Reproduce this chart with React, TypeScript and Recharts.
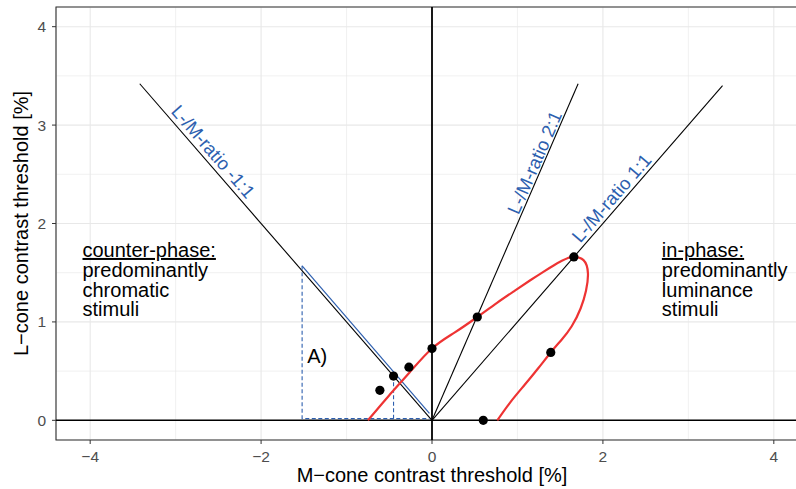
import {
  ComposedChart,
  XAxis,
  YAxis,
  CartesianGrid,
  Line,
  Scatter,
  ReferenceLine,
  ReferenceArea,
  ReferenceDot,
} from "recharts";

// axis ticks / grid
const xMajor = [-4, -2, 0, 2, 4];
const xMinor = [-3, -1, 1, 3];
const yMajor = [0, 1, 2, 3, 4];
const yMinor = [0.5, 1.5, 2.5, 3.5];

// L/M ratio lines
const ratioNeg = [
  { x: -3.42, y: 3.42 },
  { x: 0, y: 0 },
];
const ratio21 = [
  { x: 0, y: 0 },
  { x: 1.71, y: 3.42 },
];
const ratio11 = [
  { x: 0, y: 0 },
  { x: 3.4, y: 3.4 },
];

// blue construction "A)"
const blueVector = [
  { x: -1.52, y: 1.57 },
  { x: -0.03, y: 0.07 },
];
const blueDashBox = [
  { x: -1.52, y: 1.57 },
  { x: -1.52, y: 0.017 },
  { x: -0.03, y: 0.017 },
];
const blueDashTick = [
  { x: -0.45, y: 0.017 },
  { x: -0.45, y: 0.44 },
];

// threshold ellipse
const ellipseX = [
  -0.75, -0.512, -0.263, 0, 0.263, 0.53, 0.761, 0.97, 1.15, 1.303, 1.428,
  1.526, 1.598, 1.656, 1.773, 1.825, 1.802, 1.74, 1.635, 1.512, 1.401, 1.243,
  1.08, 0.916, 0.764,
];
const ellipseY = [
  0, 0.243, 0.486, 0.73, 0.891, 1.05, 1.194, 1.318, 1.423, 1.509, 1.576,
  1.623, 1.652, 1.661, 1.628, 1.492, 1.317, 1.139, 0.956, 0.814, 0.702, 0.529,
  0.356, 0.183, 0,
];
const ellipse = ellipseX.map((x, i) => ({ x, y: ellipseY[i] }));

// measured thresholds
const pointX = [-0.61, -0.45, -0.27, 0, 0.53, 1.66, 1.39, 0.6];
const pointY = [0.305, 0.45, 0.54, 0.73, 1.05, 1.66, 0.69, 0];
const points = pointX.map((x, i) => ({ x, y: pointY[i] }));

const FONT = '"Liberation Sans", Arial, Helvetica, sans-serif';
const BLUE = "#2D5FAF";
const RED = "#EE3333";
const GRID = "#E8E8E8";

const fmt = (v: number) => String(v).replace("-", "\u2212");

function YTitle(props: any) {
  const vb = props.viewBox || { x: 0, y: 7, width: 56, height: 433 };
  const x = vb.x + 28;
  const y = vb.y + vb.height / 2;
  return (
    <text x={x} y={y} transform={`rotate(-90 ${x} ${y})`} textAnchor="middle" fontSize={20} fill="#000">
      L{"\u2212"}cone contrast threshold [%]
    </text>
  );
}

function rotatedLabel(text: string, angle: number) {
  return (p: any) => (
    <text
      x={p.cx}
      y={p.cy}
      transform={`rotate(${angle} ${p.cx} ${p.cy})`}
      textAnchor="middle"
      dominantBaseline="central"
      fontSize={18.5}
      fill={BLUE}
    >
      {text}
    </text>
  );
}

function noteBlock(lines: string[]) {
  return (p: any) => (
    <text x={p.cx} y={p.cy} fontSize={20} fill="#000">
      {lines.map((l, i) => (
        <tspan key={i} x={p.cx} dy={i === 0 ? 0 : 19.8} textDecoration={i === 0 ? "underline" : undefined}>
          {l}
        </tspan>
      ))}
    </text>
  );
}

const angleSteep = -66.5;
const angleDiag = 49;

export default function App() {
  return (
    <div
      style={{
        position: "absolute",
        left: 0,
        top: 0,
        width: 796,
        height: 489,
        overflow: "hidden",
        background: "#fff",
        fontFamily: FONT,
      }}
    >
      <ComposedChart width={818} height={489} margin={{ top: 7, right: 10, bottom: 0, left: 0 }}>
        <CartesianGrid stroke={GRID} strokeWidth={0.6} xAxisId="minor" yAxisId="minor" />
        <CartesianGrid stroke={GRID} strokeWidth={1.1} />
        <XAxis xAxisId="minor" type="number" dataKey="x" domain={[-4.4, 4.4]} ticks={xMinor} allowDataOverflow hide />
        <YAxis yAxisId="minor" type="number" dataKey="y" domain={[-0.2, 4.2]} ticks={yMinor} allowDataOverflow hide />
        <XAxis
          type="number"
          dataKey="x"
          domain={[-4.4, 4.4]}
          ticks={xMajor}
          allowDataOverflow
          axisLine={false}
          tickLine={{ stroke: "#333333" }}
          tickSize={4}
          tickMargin={7}
          tick={{ fill: "#4D4D4D", fontSize: 15.5 }}
          tickFormatter={fmt}
          height={49}
          label={{
            value: "M\u2212cone contrast threshold [%]",
            position: "insideBottom",
            offset: 7,
            fill: "#000",
            fontSize: 20,
          }}
        />
        <YAxis
          type="number"
          dataKey="y"
          domain={[-0.2, 4.2]}
          ticks={yMajor}
          allowDataOverflow
          axisLine={false}
          tickLine={{ stroke: "#333333" }}
          tickSize={4}
          tickMargin={6}
          tick={{ fill: "#4D4D4D", fontSize: 15.5 }}
          tickFormatter={fmt}
          width={56}
          label={<YTitle />}
        />
        <ReferenceArea x1={-4.4} x2={4.4} y1={-0.2} y2={4.2} fill="none" stroke="#333333" strokeWidth={1.1} />
        <ReferenceLine y={0} stroke="#000" strokeWidth={1.5} />
        <ReferenceLine x={0} stroke="#000" strokeWidth={1.8} />

        <Line data={ratioNeg} dataKey="y" stroke="#000" strokeWidth={1.1} dot={false} activeDot={false} isAnimationActive={false} />
        <Line data={ratio21} dataKey="y" stroke="#000" strokeWidth={1.1} dot={false} activeDot={false} isAnimationActive={false} />
        <Line data={ratio11} dataKey="y" stroke="#000" strokeWidth={1.1} dot={false} activeDot={false} isAnimationActive={false} />
        <Line data={blueVector} dataKey="y" stroke={BLUE} strokeWidth={1.2} dot={false} activeDot={false} isAnimationActive={false} />
        <Line
          data={blueDashBox}
          dataKey="y"
          stroke={BLUE}
          strokeWidth={1.1}
          strokeDasharray="4 2.5"
          dot={false}
          activeDot={false}
          isAnimationActive={false}
        />
        <Line
          data={blueDashTick}
          dataKey="y"
          stroke={BLUE}
          strokeWidth={1.1}
          strokeDasharray="4 2.5"
          dot={false}
          activeDot={false}
          isAnimationActive={false}
        />
        <Line
          data={ellipse}
          dataKey="y"
          type="natural"
          stroke={RED}
          strokeWidth={2.2}
          dot={false}
          activeDot={false}
          isAnimationActive={false}
        />
        <Scatter
          data={points}
          dataKey="y"
          isAnimationActive={false}
          shape={(p: any) => <circle cx={p.cx} cy={p.cy} r={4.6} fill="#000" />}
        />

        <ReferenceDot x={-2.56} y={2.73} r={1} shape={rotatedLabel("L-/M-ratio -1:1", angleDiag)} />
        <ReferenceDot x={1.2} y={2.62} r={1} shape={rotatedLabel("L-/M-ratio 2:1", angleSteep)} />
        <ReferenceDot x={2.1} y={2.26} r={1} shape={rotatedLabel("L-/M-ratio 1:1", -angleDiag)} />
        <ReferenceDot x={-4.09} y={1.66} r={1} shape={noteBlock(["counter-phase:", "predominantly", "chromatic", "stimuli"])} />
        <ReferenceDot x={2.69} y={1.66} r={1} shape={noteBlock(["in-phase:", "predominantly", "luminance", "stimuli"])} />
        <ReferenceDot
          x={-1.46}
          y={0.58}
          r={1}
          shape={(p: any) => (
            <text x={p.cx} y={p.cy} fontSize={20} fill="#000">
              A)
            </text>
          )}
        />
      </ComposedChart>
    </div>
  );
}
